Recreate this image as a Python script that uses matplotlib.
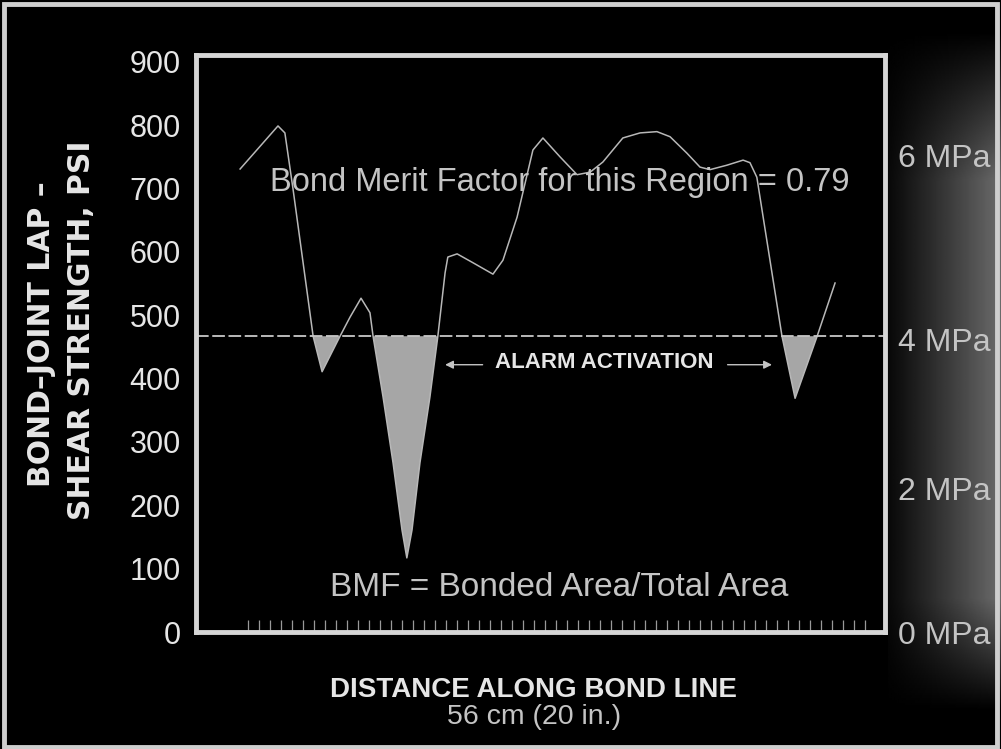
import numpy as np
import matplotlib.pyplot as plt
from matplotlib.patches import Rectangle

# 数据: 沿粘接线的距离 (in) 与剪切强度 (psi)
distance_in = [1.28, 2.38, 2.58, 2.82, 3.40, 3.66, 4.18, 4.47, 4.79, 5.05, 5.14,
               5.43, 5.72, 5.98, 6.12, 6.27, 6.50, 6.79, 7.02, 7.23, 7.31, 7.58,
               8.04, 8.62, 8.91, 9.32, 9.78, 10.07, 10.57, 11.06, 11.44, 11.81,
               12.10, 12.39, 12.89, 13.38, 13.76, 14.25, 14.63, 14.92, 15.41,
               15.88, 16.08, 16.28, 17.01, 17.39, 18.03, 18.55]
strength_psi = [731, 799, 788, 698, 467, 411, 467, 497, 527, 504, 467,
                371, 267, 161, 117, 161, 267, 371, 467, 567, 592, 597,
                583, 565, 587, 655, 761, 780, 750, 722, 726, 742,
                761, 780, 788, 790, 782, 756, 734, 730, 737,
                745, 741, 718, 467, 369, 467, 551]
alarm_psi = 467

psi_ticks = [0, 100, 200, 300, 400, 500, 600, 700, 800, 900]
mpa_labels = ["0 MPa", "2 MPa", "4 MPa", "6 MPa"]
mpa_label_psi = [0, 227, 462, 753]

fg = "#e6e6e6"
mid = "#c4c4c4"

fig = plt.figure(figsize=(10.01, 7.49), dpi=100)
fig.patch.set_facecolor("black")

# 右侧灰色渐变 (扫描噪声)
bg = fig.add_axes([888 / 1001, 0, 113 / 1001, 1])
gx = np.linspace(0.1, 1, 120) ** 1.1
gy = np.linspace(0, 1, 300)
fade = np.clip((gy - 0.04) / 0.2, 0, 1) * np.clip((0.95 - gy) / 0.15, 0, 1)
grad = np.outer(fade, gx) * 0.42
bg.imshow(grad, cmap="gray", vmin=0, vmax=1, aspect="auto", extent=[0, 1, 0, 1],
          origin="upper")
bg.axis("off")

# 外框
fig.patches.append(Rectangle((0.004, 0.003), 0.992, 0.992, transform=fig.transFigure,
                             fill=False, edgecolor="#cfcfcf", lw=3.5))

ax = fig.add_axes([196 / 1001, 117 / 749, 689 / 1001, 577 / 749])
ax.set_facecolor("black")
ax.set_xlim(0, 20)
ax.set_ylim(0, 911)

x = np.array(distance_in)
y = np.array(strength_psi)
ax.fill_between(x, y, alarm_psi, where=y <= alarm_psi, interpolate=True,
                facecolor="#a6a6a6", edgecolor="none")
ax.plot(x, y, color="#b8b8b8", lw=1.1)
ax.axhline(alarm_psi, color="#c8c8c8", lw=1.3, ls=(0, (7, 2)))

for s in ax.spines.values():
    s.set_color("#d6d6d6")
    s.set_linewidth(3.5)

ax.set_yticks(psi_ticks)
ax.set_yticklabels([str(v) for v in psi_ticks], fontsize=22, color=fg,
                   family="Liberation Sans")
ax.tick_params(axis="y", length=0, pad=11)
ax.set_xticks([])
ax.set_xticks(np.arange(1.5, 19.7, 0.32), minor=True)
ax.tick_params(axis="x", which="minor", direction="in", length=9, width=0.9,
               color="#9a9a9a")

ax2 = ax.twinx()
ax2.set_ylim(ax.get_ylim())
ax2.set_yticks(mpa_label_psi)
ax2.set_yticklabels(mpa_labels, fontsize=23, color=mid, family="Liberation Sans")
ax2.tick_params(axis="y", length=0, pad=9)
for s in ax2.spines.values():
    s.set_visible(False)

# 注释文字
ax.text(10.55, 710, "Bond Merit Factor for this Region = 0.79", ha="center",
        va="center", fontsize=23.5, color=mid, family="Liberation Sans")
ax.text(10.55, 70, "BMF = Bonded Area/Total Area", ha="center", va="center",
        fontsize=24, color=mid, family="Liberation Sans")
ax.text(11.84, 425, "ALARM ACTIVATION", ha="center", va="center", fontsize=16,
        color=fg, family="Liberation Sans", fontweight="bold")
ax.annotate("", xy=(7.15, 422), xytext=(8.4, 422),
            arrowprops=dict(arrowstyle="-|>", color=mid, lw=1, mutation_scale=12))
ax.annotate("", xy=(16.8, 422), xytext=(15.35, 422),
            arrowprops=dict(arrowstyle="-|>", color=mid, lw=1, mutation_scale=12))

fig.text(42 / 1001, 1 - 334 / 749, "BOND\u2013JOINT LAP \u2013", rotation=90,
         ha="center", va="center", fontsize=21.5, color=fg, fontweight="bold",
         family="DejaVu Sans")
fig.text(82 / 1001, 1 - 330 / 749, "SHEAR STRENGTH, PSI", rotation=90,
         ha="center", va="center", fontsize=21.5, color=fg, fontweight="bold",
         family="DejaVu Sans")
fig.text(533 / 1001, 1 - 690 / 749, "DISTANCE ALONG BOND LINE", ha="center",
         va="center", fontsize=20, color=fg, fontweight="bold",
         family="Liberation Sans")
fig.text(534 / 1001, 1 - 717 / 749, "56 cm (20 in.)", ha="center", va="center",
         fontsize=20.5, color=mid, family="Liberation Sans")

plt.savefig("out.png", dpi=100, facecolor=fig.get_facecolor())
